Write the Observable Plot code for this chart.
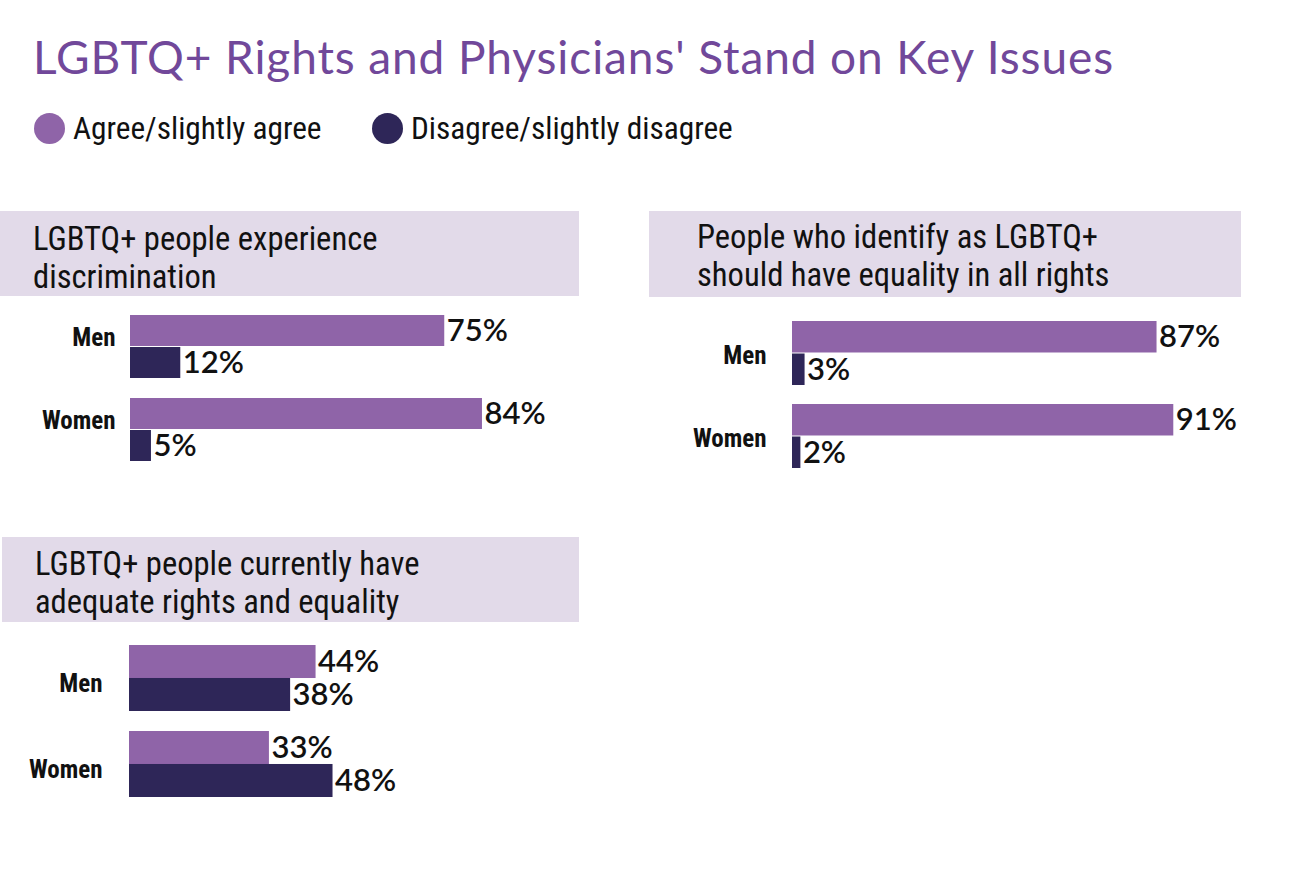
<!DOCTYPE html>
<html>
<head>
<meta charset="utf-8">
<script src="https://cdn.jsdelivr.net/npm/d3@7"></script>
<script src="https://cdn.jsdelivr.net/npm/@observablehq/plot@0.6"></script>
<style>
  html, body { margin: 0; padding: 0; background: #ffffff; }
  #root { position: relative; width: 1290px; height: 878px; overflow: hidden; background: #fff; }
  .cond { font-family: "Roboto Condensed", "Liberation Sans Narrow", "Arial Narrow", Roboto, sans-serif; font-stretch: condensed; }
  #title { position: absolute; left: 33px; top: 29px; font-family: Lato, "Open Sans", sans-serif; font-size: 46px; letter-spacing: 0.9px; color: #71489a; white-space: nowrap; }
  .legend { position: absolute; top: 110px; display: flex; align-items: center; font-size: 31.3px; color: #111; white-space: nowrap; }
  .legend .dot { width: 31px; height: 31px; border-radius: 50%; margin-right: 8px; }
  .hdr { position: absolute; background: #e2dae9; }
  .hdr span { position: absolute; font-size: 32.6px; line-height: 37.5px; color: #111; white-space: nowrap; }
  .layer { position: absolute; left: 0; top: 0; }
  .layer svg { overflow: visible; }
</style>
</head>
<body>
<div id="root">
  <div id="title">LGBTQ+ Rights and Physicians' Stand on Key Issues</div>
  <div class="legend cond" style="left:34px"><div class="dot" style="background:#8f64a8"></div>Agree/slightly agree</div>
  <div class="legend cond" style="left:372px"><div class="dot" style="background:#2e2658"></div>Disagree/slightly disagree</div>
</div>
<script>
// ---- data ----
const groups = ["Men", "Women"];
const seriesNames = ["Agree/slightly agree", "Disagree/slightly disagree"];
const seriesColors = ["#8f64a8", "#2e2658"];

const q1Title = ["LGBTQ+ people experience", "discrimination"];
const q1Agree = [75, 84];
const q1Disagree = [12, 5];

const q2Title = ["People who identify as LGBTQ+", "should have equality in all rights"];
const q2Agree = [87, 91];
const q2Disagree = [3, 2];

const q3Title = ["LGBTQ+ people currently have", "adequate rights and equality"];
const q3Agree = [44, 33];
const q3Disagree = [38, 48];

// ---- layout (page pixels) ----
const panels = [
  {title: q1Title, agree: q1Agree, disagree: q1Disagree,
   hdr: {x: 0, y: 211, w: 579, h: 85, tx: 33, ty: 10},
   x0: 130, pxPer: 4.19, yr: [314, 462], pad: 0.238, tickPad: 15, labDy: -9},
  {title: q2Title, agree: q2Agree, disagree: q2Disagree,
   hdr: {x: 649, y: 211, w: 592, h: 86, tx: 48, ty: 8},
   x0: 792, pxPer: 4.19, yr: [320, 469], pad: 0.226, tickPad: 26, labDy: 2},
  {title: q3Title, agree: q3Agree, disagree: q3Disagree,
   hdr: {x: 2, y: 537, w: 577, h: 85, tx: 33, ty: 9},
   x0: 129, pxPer: 4.24, yr: [645, 797], pad: 0.233, tickPad: 27, labDy: 5}
];

const root = document.getElementById("root");
const condFont = '"Roboto Condensed", "Liberation Sans Narrow", "Arial Narrow", Roboto, sans-serif';
const numFont = 'Lato, "Open Sans", sans-serif';

panels.forEach((p, i) => {
  const h = document.createElement("div");
  h.className = "hdr";
  Object.assign(h.style, {left: p.hdr.x + "px", top: p.hdr.y + "px", width: p.hdr.w + "px", height: p.hdr.h + "px"});
  const s = document.createElement("span");
  s.className = "cond";
  s.style.left = p.hdr.tx + "px";
  s.style.top = p.hdr.ty + "px";
  s.innerHTML = p.title.join("<br>");
  h.appendChild(s);
  root.appendChild(h);

  const rows = [];
  groups.forEach((g, j) => {
    rows.push({group: g, series: seriesNames[0], value: p.agree[j]});
    rows.push({group: g, series: seriesNames[1], value: p.disagree[j]});
  });
  const agreeRows = rows.filter(d => d.series === seriesNames[0]);
  const disRows = rows.filter(d => d.series === seriesNames[1]);
  const bw = (p.yr[1] - p.yr[0]) / (2 - p.pad) * (1 - p.pad);
  const half = bw / 2;

  const chart = Plot.plot({
    width: 1290,
    height: 878,
    marginLeft: p.x0,
    marginTop: 0, marginBottom: 0, marginRight: 0,
    style: {background: "transparent", fontFamily: condFont, overflow: "visible"},
    x: {domain: [0, 100], range: [p.x0, p.x0 + 100 * p.pxPer], axis: null},
    y: {domain: groups, range: p.yr, paddingInner: p.pad, paddingOuter: 0, axis: null},
    color: {domain: seriesNames, range: seriesColors},
    marks: [
      Plot.barX(agreeRows, {x: "value", y: "group", fill: "series", insetBottom: half, insetTop: 0}),
      Plot.barX(disRows, {x: "value", y: "group", fill: "series", insetTop: half, insetBottom: 0}),
      Plot.text(agreeRows, {x: "value", y: "group", text: d => d.value + "%", dx: 2, dy: -half / 2, textAnchor: "start",
        fontSize: 31, fontWeight: 600, fill: "#111", fontFamily: numFont}),
      Plot.text(disRows, {x: "value", y: "group", text: d => d.value + "%", dx: 2, dy: half / 2, textAnchor: "start",
        fontSize: 31, fontWeight: 600, fill: "#111", fontFamily: numFont}),
      Plot.axisY({anchor: "left", tickSize: 0, tickPadding: p.tickPad, label: null, dy: p.labDy,
        fontSize: 25, fontWeight: "bold", fontFamily: condFont, fill: "#111"})
    ]
  });
  const layer = document.createElement("div");
  layer.className = "layer";
  layer.appendChild(chart);
  root.appendChild(layer);
});
</script>
</body>
</html>
